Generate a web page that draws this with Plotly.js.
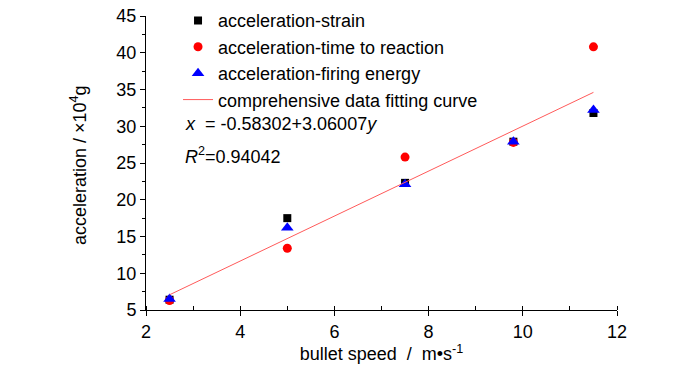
<!DOCTYPE html>
<html>
<head>
<meta charset="utf-8">
<script src="https://cdn.plot.ly/plotly-3.0.1.min.js"></script>
<style>html,body{margin:0;padding:0;background:#fff}#chart{width:700px;height:373px}</style>
</head>
<body>
<div id="chart"></div>
<script>
const speed = [2.5, 5, 7.5, 9.8, 11.5];
const accStrain = [6.4, 17.5, 22.3, 27.9, 31.8];
const accTime = [6.3, 13.4, 25.8, 27.8, 40.8];
const accEnergy = [6.5, 16.2, 22.1, 27.9, 32.2];
const fitX = [2.5, 11.5];
const fitY = [7.07, 34.61];
const names = ['acceleration-strain', 'acceleration-time to reaction', 'acceleration-firing energy', 'comprehensive data fitting curve'];
const xTicks = [2, 4, 6, 8, 10, 12];
const yTicks = [5, 10, 15, 20, 25, 30, 35, 40, 45];
const xTitle = 'bullet speed  /  m\u2022s<sup>-1</sup>';
const yTitle = 'acceleration / \u00d710<sup>4</sup>g';

const FONT = '"Liberation Sans", Arial, sans-serif';

const traces = [
  {x: speed, y: accStrain, name: names[0], mode: 'markers', type: 'scatter',
   marker: {symbol: 'square', size: 8, color: '#000'}},
  {x: speed, y: accTime, name: names[1], mode: 'markers', type: 'scatter',
   marker: {symbol: 'circle', size: 9, color: '#ff0000'}},
  {x: speed, y: accEnergy, name: names[2], mode: 'markers', type: 'scatter',
   marker: {symbol: 'triangle-up', size: 11, color: '#0000ff'}},
  {x: fitX, y: fitY, name: names[3], mode: 'lines', type: 'scatter',
   line: {color: 'rgb(255,90,90)', width: 1}}
];

const layout = {
  width: 700, height: 373,
  margin: {l: 146, r: 83, t: 16, b: 63, autoexpand: false},
  paper_bgcolor: '#fff', plot_bgcolor: '#fff',
  font: {family: FONT, size: 18, color: '#000'},
  showlegend: true,
  legend: {x: 0.068, y: 1.047, xanchor: 'left', yanchor: 'top', bgcolor: 'rgba(0,0,0,0)',
           font: {family: FONT, size: 18}, tracegroupgap: 0, itemwidth: 30},
  xaxis: {range: [2, 12], tickvals: xTicks, ticktext: xTicks.map(String),
          showline: true, linecolor: '#000', linewidth: 1, mirror: false,
          ticks: 'outside', ticklen: 5, tickcolor: '#000', showgrid: false, zeroline: false,
          minor: {dtick: 1, ticks: 'inside', ticklen: 4, tickcolor: '#000', showgrid: false},
          tickfont: {family: FONT, size: 18},
          title: {text: xTitle, font: {family: FONT, size: 18}, standoff: 6}},
  yaxis: {range: [5, 45], tickvals: yTicks, ticktext: yTicks.map(String),
          showline: true, linecolor: '#000', linewidth: 1, mirror: false,
          ticks: 'outside', ticklen: 5, tickcolor: '#000', showgrid: false, zeroline: false,
          minor: {dtick: 2.5, ticks: 'outside', ticklen: 3, tickcolor: '#000', showgrid: false},
          tickfont: {family: FONT, size: 18}},
  annotations: [
    {xref: 'paper', yref: 'paper', x: (78 - 146) / 471, y: (310 - 165) / 294, xanchor: 'center', yanchor: 'middle',
     textangle: -90, text: yTitle, showarrow: false, font: {family: FONT, size: 18}},
    {xref: 'paper', yref: 'paper', x: (183 - 146) / 471, y: (310 - 124) / 294, xanchor: 'left', yanchor: 'middle',
     text: '<i>x</i>  = -0.58302+3.06007<i>y</i>', showarrow: false, font: {family: FONT, size: 18}},
    {xref: 'paper', yref: 'paper', x: (183 - 146) / 471, y: (310 - 155) / 294, xanchor: 'left', yanchor: 'middle',
     text: '<i>R</i><sup>2</sup>=0.94042', showarrow: false, font: {family: FONT, size: 18}}
  ]
};

Plotly.newPlot('chart', traces, layout, {displayModeBar: false, staticPlot: true});
</script>
</body>
</html>
